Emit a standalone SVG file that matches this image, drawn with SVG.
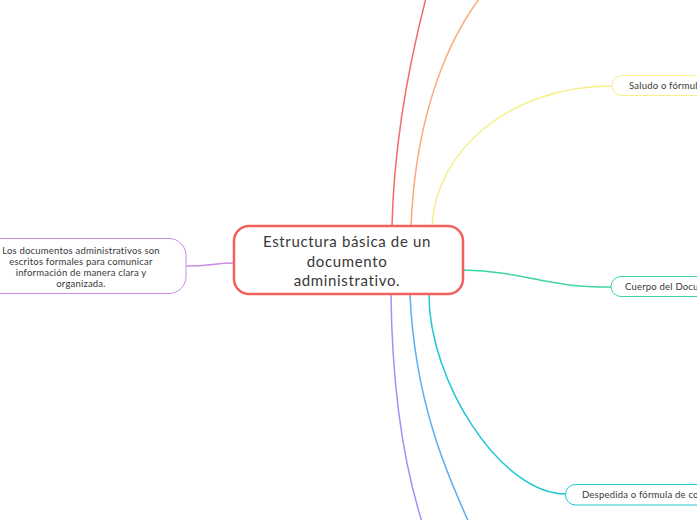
<svg xmlns="http://www.w3.org/2000/svg" width="697" height="520" viewBox="0 0 697 520">
<style>
text{font-family:"Lato","Liberation Sans",sans-serif;fill:#383838}
.c{fill:none;stroke-width:1.5;stroke-linecap:round}
.n{fill:#ffffff;stroke-width:1}
.t{font-size:9.5px;letter-spacing:0.2px}
.m{font-size:15px;text-anchor:middle;letter-spacing:0.65px}
</style>
<rect width="697" height="520" fill="#ffffff"/>
<g id="connectors">
<path class="c" stroke="#f36b66" d="M392,226 C394,140 410,60 426,-2"/>
<path class="c" stroke="#fba97c" d="M411,226 C415,130 440,50 482,-5"/>
<path class="c" stroke="#f6ef8c" d="M432,226 C436,150 510,86 612,86"/>
<path class="c" stroke="#3fd5a2" d="M463,270 C530,272 540,287 611,287"/>
<path class="c" stroke="#1ec6d2" d="M429,295 C429,380 500,494 566,494"/>
<path class="c" stroke="#5aaef3" d="M410,295 C415,400 445,470 470,525"/>
<path class="c" stroke="#a58ff7" d="M391,295 C392,380 402,460 423,525"/>
<path class="c" stroke="#c98ce6" d="M187,266 C210,266 215,263 234,263"/>
</g>
<g id="central">
<rect x="234" y="226" width="229" height="68" rx="15" fill="#ffffff" stroke="#f4615d" stroke-width="2.5"/>
<text class="m" x="347" y="247">Estructura básica de un</text>
<text class="m" x="347" y="267">documento</text>
<text class="m" x="347" y="286">administrativo.</text>
</g>
<g id="intro">
<rect x="-20" y="238.5" width="206" height="55" rx="17" class="n" stroke="#c98ce6"/>
<text class="t" x="81" y="253.5" text-anchor="middle">Los documentos administrativos son</text>
<text class="t" x="81" y="264.5" text-anchor="middle">escritos formales para comunicar</text>
<text class="t" x="81" y="276" text-anchor="middle">información de manera clara y</text>
<text class="t" x="81" y="287" text-anchor="middle">organizada.</text>
</g>
<g id="saludo">
<rect x="612" y="75.5" width="150" height="20" rx="10" class="n" stroke="#f6ef8c"/>
<text class="t" x="629" y="89">Saludo o fórmul</text>
</g>
<g id="cuerpo">
<rect x="611" y="276.5" width="150" height="20" rx="10" class="n" stroke="#3fd5a2"/>
<text class="t" x="625" y="290">Cuerpo del Docu</text>
</g>
<g id="despedida">
<rect x="565.5" y="484.5" width="180" height="20.5" rx="10" class="n" stroke="#1ec6d2"/>
<text class="t" x="582" y="498">Despedida o fórmula de co</text>
</g>
</svg>
